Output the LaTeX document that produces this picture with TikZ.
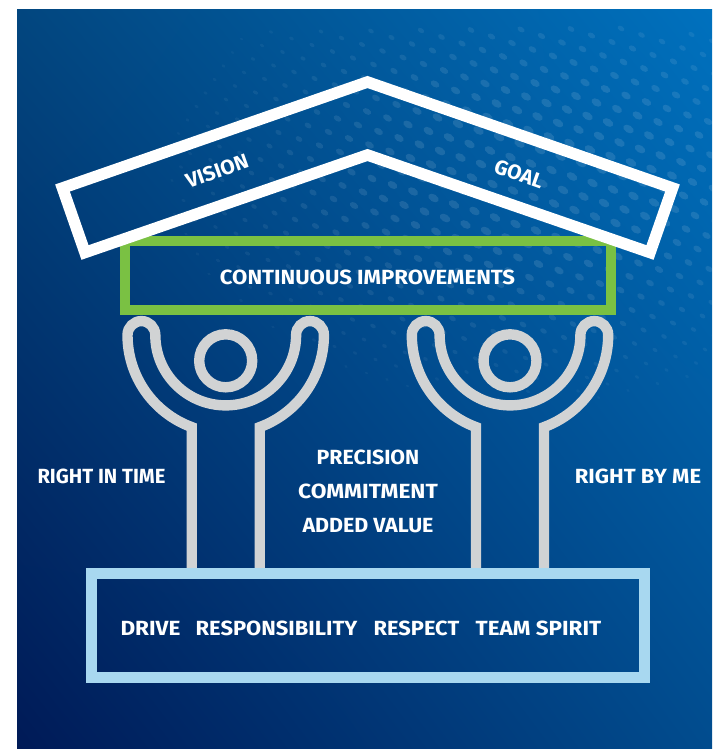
\documentclass[tikz,border=0pt]{standalone}
\usepackage{fontspec}
\usepackage{graphicx}
\usetikzlibrary{shadings}
\setmainfont{Fira Sans}[UprightFont=* SemiBold,BoldFont=* Bold]
\definecolor{bgLL}{HTML}{001A57}
\definecolor{bgUR}{HTML}{0071BE}
\definecolor{bgUL}{HTML}{02467F}
\definecolor{bgLR}{HTML}{014C8E}
\definecolor{roofwhite}{HTML}{FFFFFF}
\definecolor{bargreen}{HTML}{7AC143}
\definecolor{basblue}{HTML}{A8D8F0}
\definecolor{figgray}{HTML}{D1D3D4}
\tikzset{
  lbl/.style={text=white,font=\bfseries\fontsize{20.5}{22}\selectfont,inner sep=0pt,anchor=center},
  figline/.style={draw=figgray,line width=10.4pt,miter limit=10},
}
\newcommand{\stretched}[2]{\scalebox{#1}[1]{#2}}
\newcommand{\personfig}[1]{%
  \begin{scope}[shift={(#1,-335)}]
    \draw[figline] (-34,-235) -- (-34,-92.1)
      arc[start angle=249.74,end angle=180,radius=98.2]
      arc[start angle=180,end angle=0,radius=13.9]
      arc[start angle=180,end angle=360,radius=70.4]
      arc[start angle=180,end angle=0,radius=13.9]
      arc[start angle=0,end angle=-69.74,radius=98.2]
      -- (34,-235);
    \draw[figline] (0,-25.8) circle[radius=26.5];
  \end{scope}}
\begin{document}
\begin{tikzpicture}[x=1pt,y=1pt]
\useasboundingbox (0,0) rectangle (712,-749);
\begin{scope}
  \clip (17,-10) rectangle (712,-749);
  \shade[shading=bilinear interpolation,lower left=bgLL,upper right=bgUR,upper left=bgUL,lower right=bgLR] (17,-10) rectangle (712,-749);
  % halftone dots
  \foreach \i in {-30,...,30}{
    \foreach \j in {-22,...,22}{
      \pgfmathsetmacro{\px}{540+\i*20.5+\j*(-9)}
      \pgfmathsetmacro{\py}{150+\i*6.5+\j*13.5}
      \pgfmathsetmacro{\s}{1-sqrt(((\px-540)/400)^2+((\py-175)/240)^2)}
      \pgfmathsetmacro{\t}{(\s>0.06 && \py>28)?1:0}
      \ifdim\t pt>0pt
        \pgfmathsetmacro{\op}{min(0.11,0.03+0.13*\s)}
        \pgfmathsetmacro{\rx}{1.5+6*min(\s,0.7)}
        \pgfmathsetmacro{\ry}{1+3.8*min(\s,0.7)}
        \fill[white,opacity=\op,rotate around={-32:(\px,-\py)}] (\px,-\py) ellipse[x radius=\rx,y radius=\ry];
      \fi
    }
  }
\end{scope}
% bars
\draw[draw=bargreen,line width=10.5pt] (125.2,-241.2) rectangle (610.8,-309.8);
\personfig{225.7}
\personfig{510}
\draw[draw=basblue,line width=10.4pt] (91.6,-573.3) rectangle (644.3,-677.5);
% roof
\draw[draw=roofwhite,line width=11.5pt,miter limit=10] (62.5,-188) -- (367.5,-82) -- (672.5,-188) -- (650,-252.5) -- (367.5,-155) -- (85,-252.5) -- cycle;
% labels
\node[lbl,rotate=19.5] (vision) at (217,-171) {\stretched{1.025}{VISION}};
\node[lbl,rotate=-19.5] (goal) at (519,-174) {\stretched{1.015}{GOAL}};
\node[lbl] (ci) at (367.5,-277) {\stretched{1.08}{CONTINUOUS IMPROVEMENTS}};
\node[lbl] (rit) at (101.5,-476) {\stretched{0.985}{RIGHT IN TIME}};
\node[lbl] (rbm) at (638,-476) {\stretched{1.075}{RIGHT BY ME}};
\node[lbl] (prec) at (368,-457) {\stretched{1.04}{PRECISION}};
\node[lbl] (comm) at (368,-491) {\stretched{1.11}{COMMITMENT}};
\node[lbl] (addv) at (368,-526) {\stretched{1.045}{ADDED VALUE}};
\node[lbl] (drive) at (150.5,-628) {\stretched{1.1}{DRIVE}};
\node[lbl] (resp) at (276.5,-628) {\stretched{1.07}{RESPONSIBILITY}};
\node[lbl] (rspt) at (416.5,-628) {\stretched{1.065}{RESPECT}};
\node[lbl] (team) at (538.5,-628) {\stretched{1.095}{TEAM SPIRIT}};
\end{tikzpicture}
\end{document}
